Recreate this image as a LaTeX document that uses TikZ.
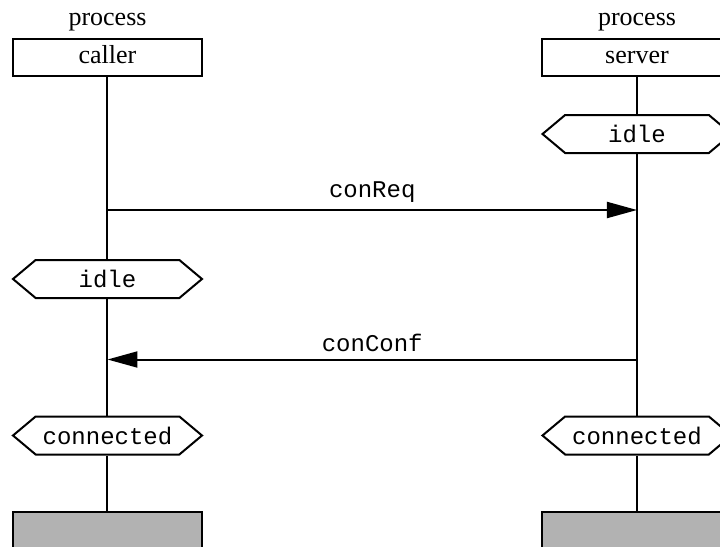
\documentclass[tikz,border=0pt]{standalone}
\usepackage{fontspec}
\setmainfont{Liberation Serif}
\setmonofont{Liberation Mono}
\usetikzlibrary{positioning, shapes.symbols, arrows.meta}
\tikzset{
	procbox/.style={draw, minimum width=94.5pt, minimum height=18.5pt, inner sep=0pt,
		text height=8pt, text depth=2.5pt, font=\fontsize{13}{15}\selectfont}
}
\tikzset{
	kindtext/.style={inner sep=0pt, font=\fontsize{13}{15}\selectfont}
}
\tikzset{
	statebox/.style={draw, signal, signal to=west and east, signal pointer angle=80,
		minimum width=94.5pt, minimum height=19pt, inner sep=0pt, font=\fontsize{12}{14}\selectfont\ttfamily}
}
\tikzset{
	stopbox/.style={draw, fill=black!30, minimum width=94.5pt, minimum height=20pt, inner sep=0pt}
}
\tikzset{
	msgtext/.style={inner sep=0pt, text depth=0pt, font=\fontsize{12}{14}\selectfont\ttfamily}
}

\begin{document}
\begin{tikzpicture}[x=0.5pt, y=-0.5pt, line width=1pt, >={Triangle[length=15pt,width=8pt]}]
      \useasboundingbox (0,0) rectangle (720,547);
      \clip (0,0) rectangle (720,547);

      % process headers
      \node[procbox] (caller) at (107.5,57.5) {caller};
      \node[procbox] (server) at (637,57.5) {server};
      \node[kindtext, above=3pt of caller] (callerkind) {process};
      \node[kindtext, above=3pt of server] (serverkind) {process};

      % states along the lifelines
      \node[statebox] (sidle) at (637,134) {idle};
      \node[statebox] (cidle) at (107.5,279) {idle};
      \node[statebox] (cconn) at (107.5,435.5) {connected};
      \node[statebox] (sconn) at (637,435.5) {connected};

      % process ends (cut off at the bottom)
      \node[stopbox] (cstop) at (107.5,532) {};
      \node[stopbox] (sstop) at (637,532) {};

      % lifelines
      \draw (caller.south) -- (cidle.north);
      \draw (cidle.south) -- (cconn.north);
      \draw (cconn.south) -- (cstop.north);
      \draw (server.south) -- (sidle.north);
      \draw (sidle.south) -- (sconn.north);
      \draw (sconn.south) -- (sstop.north);

      % messages
      \coordinate (reqout) at (107.5,210);
      \coordinate (reqin) at (637,210);
      \coordinate (confout) at (637,359.5);
      \coordinate (confin) at (107.5,359.5);
      \draw[->] (reqout) -- node[msgtext, above=6pt] {conReq} (reqin);
      \draw[->] (confout) -- node[msgtext, above=3.5pt] {conConf} (confin);
    \end{tikzpicture}
\end{document}
